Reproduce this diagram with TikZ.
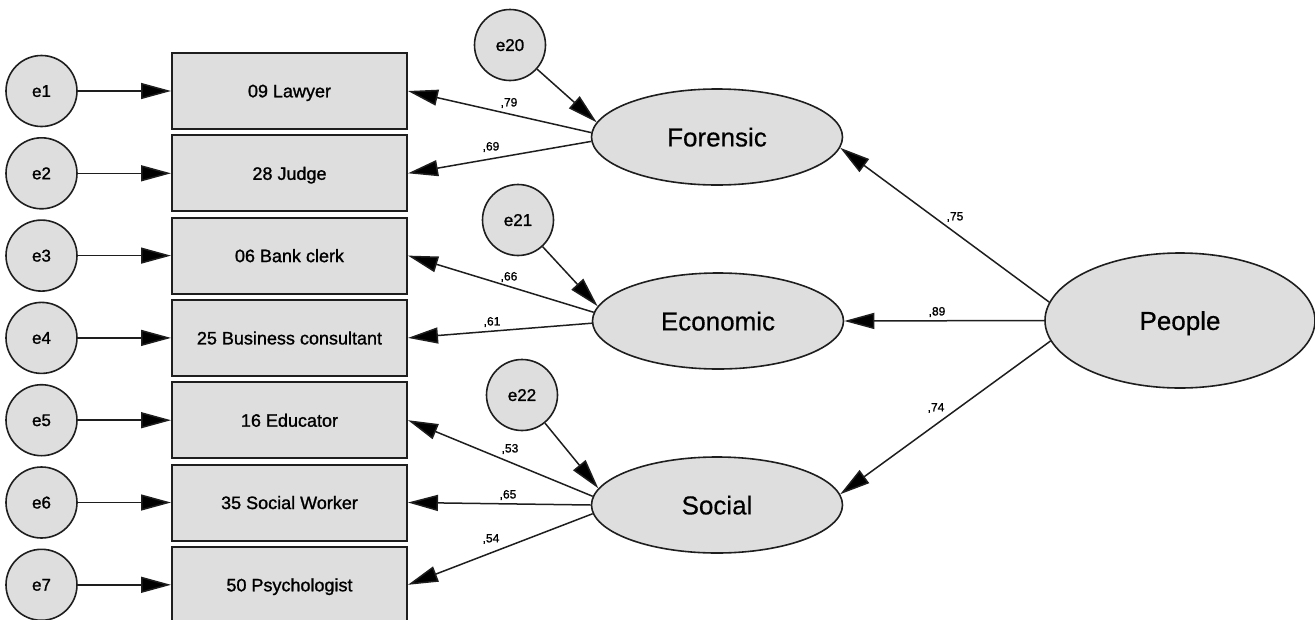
\documentclass[tikz,border=0pt]{standalone}
\usepackage{fontspec}
\setmainfont{Liberation Sans}
\newfontfamily\heavyfont{Liberation Sans}[FakeBold=1.2]
\newfontfamily\midfont{Liberation Sans}[FakeBold=0.5]
\usetikzlibrary{arrows.meta,shapes.geometric}
\definecolor{shapefill}{RGB}{222,222,222}
\definecolor{edgegray}{RGB}{30,30,30}
\begin{document}
\begin{tikzpicture}[x=1pt,y=-1pt,
  err/.style={circle,draw=edgegray,line width=1.6pt,fill=shapefill,
    minimum size=71pt,inner sep=0pt,text depth=0pt,
    font=\heavyfont\fontsize{17}{20}\selectfont},
  obs/.style={rectangle,draw=edgegray,line width=2pt,fill=shapefill,
    minimum width=235pt,minimum height=76pt,inner sep=0pt,text depth=0pt,
    font=\heavyfont\fontsize{18}{21}\selectfont},
  lat/.style={ellipse,draw=edgegray,line width=1.6pt,fill=shapefill,
    minimum width=251pt,minimum height=96pt,inner sep=0pt,text depth=0pt,
    font=\midfont\fontsize{26}{30}\selectfont},
  link/.style={draw=edgegray,line width=1.5pt,
    -{Triangle[length=30pt,width=16pt,fill=black]}},
  coef/.style={inner sep=0pt,font=\heavyfont\fontsize{12}{14}\selectfont}
]
\useasboundingbox (0,0) rectangle (1315,619);
\clip (0,0) rectangle (1315,619);

% observed indicators
\node[obs] (b1) at (289.5,91)    {09 Lawyer};
\node[obs] (b2) at (289.5,173.3) {28 Judge};
\node[obs] (b3) at (289.5,255.6) {06 Bank clerk};
\node[obs] (b4) at (289.5,337.9) {25 Business consultant};
\node[obs] (b5) at (289.5,420.2) {16 Educator};
\node[obs] (b6) at (289.5,502.5) {35 Social Worker};
\node[obs] (b7) at (289.5,584.8) {50 Psychologist};

% measurement errors
\foreach \i/\y in {1/91,2/173.3,3/255.6,4/337.9,5/420.2,6/502.5,7/584.8}{
  \node[err] (e\i) at (41.5,\y) {e\i};
  \draw[link] (e\i.east) -- (b\i.west);
}

% latent factors
\node[lat] (forensic) at (717,137) {Forensic};
\node[lat] (economic) at (718,321) {Economic};
\node[lat] (social)   at (717,505) {Social};
\node[lat,minimum width=270pt,minimum height=135pt] (people) at (1180,320.5) {People};

% disturbances
\node[err] (e20) at (510,45)  {e20};
\node[err] (e21) at (518,220) {e21};
\node[err] (e22) at (522,395) {e22};

\draw[link] (e20) -- (forensic.173);
\draw[link] (e21) -- (economic.173);
\draw[link] (e22) -- (social.172);

% loadings
\draw[link] (forensic.178) -- (b1.east);
\draw[link] (forensic.182) -- (b2.east);
\draw[link] (economic.176) -- (b3.east);
\draw[link] (economic.181) -- (b4.east);
\draw[link] (social.176) -- (b5.east);
\draw[link] (social.180) -- (b6.east);
\draw[link] (social.184) -- (b7.east);

% second-order paths
\draw[link] (people.172) -- (forensic.355);
\draw[link] (people.west) -- (economic.east);
\draw[link] (people.189) -- (social.5);

% coefficients
\node[coef] (c1)  at (509,103) {,79};
\node[coef] (c2)  at (491,147) {,69};
\node[coef] (c3)  at (509,277) {,66};
\node[coef] (c4)  at (492,322) {,61};
\node[coef] (c5)  at (510,449) {,53};
\node[coef] (c6)  at (508,495) {,65};
\node[coef] (c7)  at (491,539) {,54};
\node[coef] (c8)  at (955,217) {,75};
\node[coef] (c9)  at (937,312) {,89};
\node[coef] (c10) at (936,408) {,74};
\end{tikzpicture}
\end{document}
